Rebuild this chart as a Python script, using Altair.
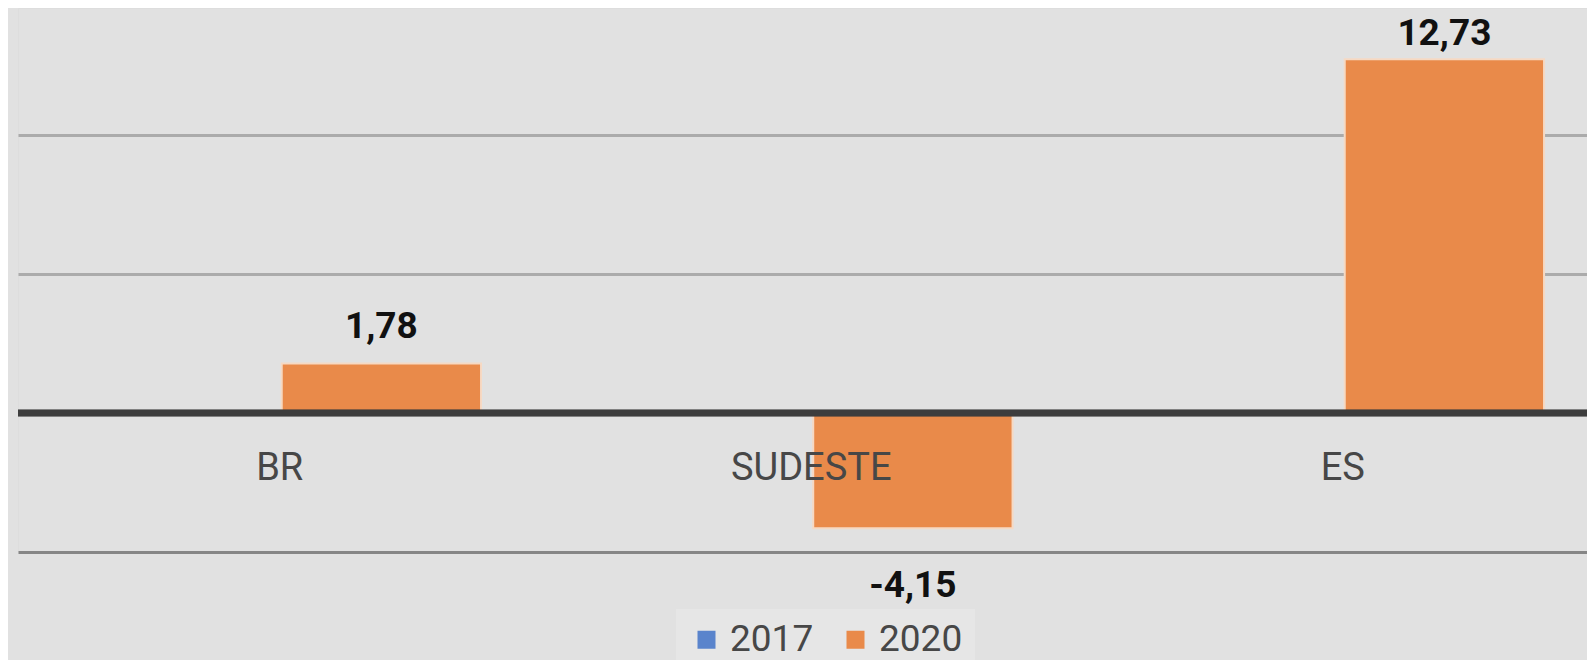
import altair as alt
import pandas as pd

# ---- data ----
categories = ["BR", "SUDESTE", "ES"]
years = ["2017", "2020"]
values_2017 = [0.0, 0.0, 0.0]
values_2020 = [1.78, -4.15, 12.73]
grid_values = [-5, 5, 10]

rows = []
for i, c in enumerate(categories):
    rows.append({"cat": c, "year": "2017", "value": values_2017[i]})
    rows.append({"cat": c, "year": "2020", "value": values_2020[i]})
df = pd.DataFrame(rows)
df_cat = pd.DataFrame({"cat": categories})

FONT = "Roboto"

x_enc = alt.X(
    "cat:N",
    sort=categories,
    scale=alt.Scale(paddingInner=0.25, paddingOuter=0.101, align=0.6),
    axis=None,
)
y_enc = alt.Y(
    "value:Q",
    scale=alt.Scale(domain=[-5, 14.57], nice=False, zero=False),
    axis=alt.Axis(
        values=grid_values,
        grid=True,
        labels=False,
        ticks=False,
        domain=False,
        title=None,
        gridColor={"condition": {"test": "datum.value < 0", "value": "#868686"}, "value": "#ababab"},
        gridWidth=3,
    ),
)
xoff = alt.XOffset("year:N", sort=years)

bars = alt.Chart(df).mark_bar(stroke="#f6d9c3", strokeWidth=2).encode(
    x=x_enc,
    y=y_enc,
    xOffset=xoff,
    color=alt.Color(
        "year:N",
        sort=years,
        scale=alt.Scale(domain=years, range=["#5A84CC", "#E98A4A"]),
        legend=alt.Legend(
            orient="none",
            legendX=658,
            legendY=601,
            direction="horizontal",
            title=None,
            symbolType="square",
            symbolSize=324,
            symbolStrokeWidth=0,
            symbolOpacity=1,
            labelFont=FONT,
            labelFontSize=37,
            labelColor="#474747",
            labelOffset=5,
            columnPadding=23,
            padding=12,
            fillColor="#e6e6e6",
        ),
    ),
)

zero_rule = alt.Chart(df_cat).mark_rule(color="#3d3d3d", strokeWidth=6.5).encode(
    y=alt.datum(0)
)

value_labels = (
    alt.Chart(df)
    .transform_filter("datum.year == '2020'")
    .mark_text(
        font=FONT,
        fontSize=37,
        fontWeight="bold",
        color="#111111",
        baseline="alphabetic",
        align="center",
        dy={"expr": "datum.value < 0 ? 69 : max(-26, 37 - scale('y', datum.value))"},
    )
    .encode(
        x=alt.X("cat:N", sort=categories),
        xOffset=xoff,
        y=alt.Y("value:Q"),
        text=alt.Text("value:Q", format=".2f"),
    )
)

cat_labels = alt.Chart(df_cat).mark_text(
    font=FONT,
    fontSize=38,
    color="#474747",
    baseline="alphabetic",
    align="center",
    dy=67,
    dx=-2,
).encode(
    x=alt.X("cat:N", sort=categories),
    y=alt.datum(0),
    text="cat:N",
)

chart = (
    alt.layer(bars, zero_rule, cat_labels, value_labels)
    .properties(
        width=1569,
        height=544,
        padding={"left": 10, "top": 0, "right": 0, "bottom": 108},
        autosize=alt.AutoSizeParams(type="none"),
        background="#e1e1e1",
    )
    .configure_view(stroke=None)
    .configure(locale={"number": {"decimal": ",", "thousands": ".", "grouping": [3],
                                  "currency": ["R$", ""], "minus": "-"}})
)

chart.save("out.html", embed_options={"renderer": "svg", "actions": False})
